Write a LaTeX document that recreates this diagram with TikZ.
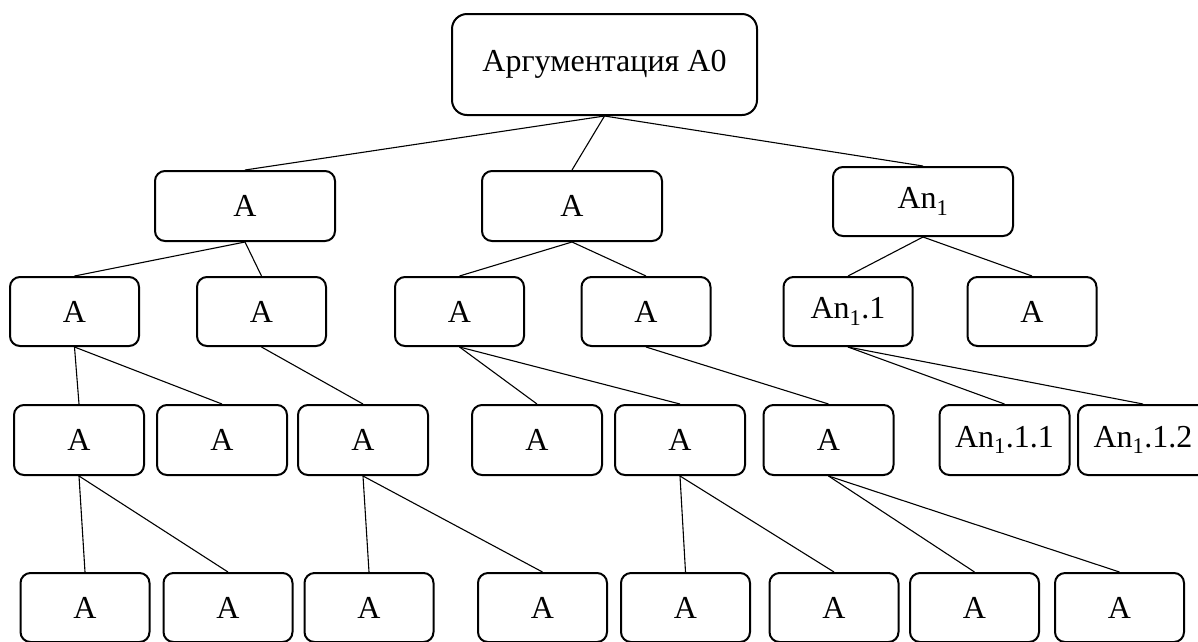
\documentclass[tikz,border=0pt]{standalone}
\usepackage{fontspec}
\setmainfont{Liberation Serif}

\begin{document}
\begin{tikzpicture}[x=1pt, y=-1pt,
  anode/.style={draw=black, rounded corners=10pt, line width=2pt,
                minimum width=129pt, minimum height=69pt, inner sep=0pt,
                font=\fontsize{32}{38}\selectfont, align=center},
  link/.style={black, line width=1.1pt}]
  \useasboundingbox (0,0) rectangle (1198,641);
  % root of the argumentation
  \node[anode, minimum width=305pt, minimum height=101pt,
        rounded corners=15pt] (a0) at (604.5,64.5) {Аргументация А0};
  % first level
  \node[anode, minimum width=180pt, minimum height=70pt] (b1) at (245,206)   {А};
  \node[anode, minimum width=180pt, minimum height=70pt] (b2) at (572,206)   {А};
  \node[anode, minimum width=180pt, minimum height=69pt] (b3) at (923,201.5) {Аn\textsubscript{1}};
  \draw[link] (a0.south) -- (b1.north); \draw[link] (a0.south) -- (b2.north);
  \draw[link] (a0.south) -- (b3.north);
  % second level
  \node[anode] (c1) at (74.5,311.5)  {А};
  \node[anode] (c2) at (261.5,311.5) {А};
  \node[anode] (c3) at (459.5,311.5) {А};
  \node[anode] (c4) at (646,311.5)   {А};
  \node[anode] (c5) at (848,311.5)   {Аn\textsubscript{1}.1};
  \node[anode] (c6) at (1032,311.5)  {А};
  \draw[link] (b1.south) -- (c1.north); \draw[link] (b1.south) -- (c2.north);
  \draw[link] (b2.south) -- (c3.north); \draw[link] (b2.south) -- (c4.north);
  \draw[link] (b3.south) -- (c5.north); \draw[link] (b3.south) -- (c6.north);
  % third level
  \node[anode, minimum width=130pt, minimum height=70pt] (d1) at (79,440)    {А};
  \node[anode, minimum width=130pt, minimum height=70pt] (d2) at (222,440)   {А};
  \node[anode, minimum width=130pt, minimum height=70pt] (d3) at (363,440)   {А};
  \node[anode, minimum width=130pt, minimum height=70pt] (d4) at (537,440)   {А};
  \node[anode, minimum width=130pt, minimum height=70pt] (d5) at (680,440)   {А};
  \node[anode, minimum width=130pt, minimum height=70pt] (d6) at (828.5,440) {А};
  \node[anode, minimum width=130pt, minimum height=70pt] (d7) at (1004.5,440) {Аn\textsubscript{1}.1.1};
  \node[anode, minimum width=130pt, minimum height=70pt] (d8) at (1143,440)  {Аn\textsubscript{1}.1.2};
  \draw[link] (c1.south) -- (d1.north); \draw[link] (c1.south) -- (d2.north);
  \draw[link] (c2.south) -- (d3.north);
  \draw[link] (c3.south) -- (d4.north); \draw[link] (c3.south) -- (d5.north);
  \draw[link] (c4.south) -- (d6.north);
  \draw[link] (c5.south) -- (d7.north); \draw[link] (c5.south) -- (d8.north);
  % fourth level, the leaves
  \node[anode] (e1) at (85,607.5)     {А};
  \node[anode] (e2) at (228,607.5)    {А};
  \node[anode] (e3) at (369,607.5)    {А};
  \node[anode] (e4) at (542.5,607.5)  {А};
  \node[anode] (e5) at (685.5,607.5)  {А};
  \node[anode] (e6) at (834,607.5)    {А};
  \node[anode] (e7) at (974.5,607.5)  {А};
  \node[anode] (e8) at (1119.5,607.5) {А};
  \draw[link] (d1.south) -- (e1.north); \draw[link] (d1.south) -- (e2.north);
  \draw[link] (d3.south) -- (e3.north); \draw[link] (d3.south) -- (e4.north);
  \draw[link] (d5.south) -- (e5.north); \draw[link] (d5.south) -- (e6.north);
  \draw[link] (d6.south) -- (e7.north); \draw[link] (d6.south) -- (e8.north);
\end{tikzpicture}
\end{document}
